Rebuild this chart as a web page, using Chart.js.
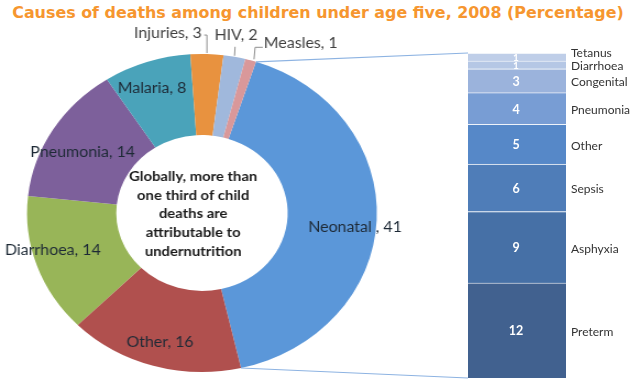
<!DOCTYPE html>
<html><head><meta charset="utf-8">
<script src="https://cdn.jsdelivr.net/npm/chart.js@4"></script>
<style>
html,body{margin:0;padding:0;background:#fff;}
#wrap{position:relative;width:636px;height:379px;overflow:hidden;background:#fff;}
#title{position:absolute;left:0;top:3px;width:636px;text-align:center;font:bold 15.9px "DejaVu Sans";color:#F6962F;white-space:nowrap;}
#pie{position:absolute;left:0;top:0;transform:scaleX(1.1);transform-origin:0 0;}
#bar{position:absolute;left:0;top:0;}
</style></head>
<body><div id="wrap">
<div id="title">Causes of deaths among children under age five, 2008 (Percentage)</div>
<canvas id="pie" width="420" height="379"></canvas>
<canvas id="bar" width="636" height="379"></canvas>
</div>
<script>
// ---- data ----
const causes = ['Neonatal','Other','Diarrhoea','Pneumonia','Malaria','Injuries','HIV','Measles'];
const causeValues = [41,16,14,14,8,3,2,1];
const causeLabels = ['Neonatal , 41','Other, 16','Diarrhoea, 14','Pneumonia, 14','Malaria, 8','Injuries, 3','HIV, 2','Measles, 1'];
const neonatalCauses = ['Preterm','Asphyxia','Sepsis','Other','Pneumonia','Congenital','Diarrhoea','Tetanus'];
const neonatalValues = [12,9,6,5,4,3,1,1];
const centerNote = ['Globally, more than','one third of child','deaths are','attributable to','undernutrition'];

// ---- styles ----
const pieColors = ['#5B97D9','#B0504E','#98B558','#7D609B','#4AA3BA','#E8923F','#A0B8DC','#D9989A'];
const barColors = ['#41618F','#4670A6','#4F7DB8','#5688C8','#789DD4','#9BB3DC','#B5C7E5','#BFCEE8'];
const SX = 1.1; // horizontal stretch of the doughnut canvas
const labelFont = '14.5px Lato';
// inside label placement: radius fraction and angle tweak (deg)
const inside = {0:[0.88,3.3],1:[0.846,0.3],2:[0.884,4],3:[0.78,-2.6],4:[0.837,-1.6]};
// outside label placement: text-centre offset and leader points, relative to outer mid point
const outside = {
  5:{t:[-35.5,-21], l:[[0,-1],[0,-19],[-2.5,-19]]},
  6:{t:[1.4,-21], l:[[0,-1],[0.5,-10]]},
  7:{t:[45.5,-17], l:[[3,-1],[4,-13],[11,-13]]}
};

const pieLabels = {
  id:'pieLabels',
  afterDatasetsDraw(chart){
    const ctx = chart.ctx;
    const meta = chart.getDatasetMeta(0);
    ctx.save();
    meta.data.forEach((arc,i)=>{
      const p = arc.getProps(['x','y','startAngle','endAngle','innerRadius','outerRadius'],true);
      const mid = (p.startAngle+p.endAngle)/2;
      ctx.font = labelFont;
      ctx.textAlign='center'; ctx.textBaseline='middle';
      if (inside[i]) {
        const [k,d] = inside[i];
        const a = mid + d*Math.PI/180;
        ctx.fillStyle = '#1E2A36';
        ctx.fillText(causeLabels[i], p.x+Math.cos(a)*p.outerRadius*k, p.y+Math.sin(a)*p.outerRadius*k);
      } else if (outside[i]) {
        const o = outside[i];
        const ox = p.x+Math.cos(mid)*p.outerRadius, oy = p.y+Math.sin(mid)*p.outerRadius;
        ctx.strokeStyle='#8C8C8C'; ctx.lineWidth=1;
        ctx.beginPath();
        o.l.forEach((pt,j)=>{ if(j===0) ctx.moveTo(ox+pt[0],oy+pt[1]); else ctx.lineTo(ox+pt[0],oy+pt[1]); });
        ctx.stroke();
        ctx.fillStyle = '#404040';
        ctx.fillText(causeLabels[i], ox+o.t[0], oy+o.t[1]);
      }
    });
    // centre note
    const a0 = meta.data[0];
    ctx.font = 'bold 13.5px Lato';
    ctx.fillStyle = '#1A1A1A';
    const lh = 18.7;
    centerNote.forEach((s,j)=>{
      ctx.fillText(s, a0.x-8, a0.y+1+(j-(centerNote.length-1)/2)*lh);
    });
    ctx.restore();
  }
};

const pie = new Chart(document.getElementById('pie'), {
  type:'doughnut',
  data:{labels:causes, datasets:[{data:causeValues, backgroundColor:pieColors, borderWidth:0}]},
  options:{
    responsive:false, animation:false, events:[],
    rotation:18, cutout:'49%',
    layout:{padding:{left:24.6,right:77.4,top:54,bottom:7}},
    plugins:{legend:{display:false}, tooltip:{enabled:false}, title:{display:false}}
  },
  plugins:[pieLabels]
});

const barDecor = {
  id:'barDecor',
  beforeDatasetsDraw(chart){
    // connector lines from the Neonatal slice to the bar
    const ctx = chart.ctx;
    const arc = pie.getDatasetMeta(0).data[0];
    const p = arc.getProps(['x','y','startAngle','endAngle','outerRadius'],true);
    const first = chart.getDatasetMeta(0).data[0];
    const last = chart.getDatasetMeta(chart.data.datasets.length-1).data[0];
    const left = first.x - first.width/2;
    const s = [SX*(p.x+Math.cos(p.startAngle)*p.outerRadius), p.y+Math.sin(p.startAngle)*p.outerRadius];
    const e = [SX*(p.x+Math.cos(p.endAngle)*p.outerRadius), p.y+Math.sin(p.endAngle)*p.outerRadius];
    ctx.save();
    ctx.strokeStyle='#8DB3E2'; ctx.lineWidth=1.2;
    ctx.beginPath(); ctx.moveTo(s[0],s[1]); ctx.lineTo(left,last.y); ctx.stroke();
    ctx.beginPath(); ctx.moveTo(e[0],e[1]); ctx.lineTo(left,first.base); ctx.stroke();
    ctx.restore();
  },
  afterDatasetsDraw(chart){
    const ctx = chart.ctx;
    ctx.save();
    const n = chart.data.datasets.length;
    chart.data.datasets.forEach((ds,i)=>{
      const b = chart.getDatasetMeta(i).data[0];
      const cy = (b.y+b.base)/2;
      ctx.textBaseline='middle';
      ctx.textAlign='center';
      ctx.fillStyle='#FFFFFF';
      ctx.font = (ds.data[0]>1?'bold 12.5px Lato':'bold 10px Lato');
      ctx.fillText(String(ds.data[0]), b.x-1, cy+1);
      ctx.textAlign='left';
      ctx.fillStyle='#333333';
      ctx.font='12px Lato';
      ctx.fillText(ds.label, b.x+b.width/2+5, cy+(i===n-1?-4:1.5));
    });
    ctx.restore();
  }
};

const barTotal = neonatalValues.reduce((a,b)=>a+b,0);
new Chart(document.getElementById('bar'), {
  type:'bar',
  data:{labels:['Neonatal'], datasets: neonatalCauses.map((c,i)=>({
    label:c, data:[neonatalValues[i]], backgroundColor:barColors[i],
    borderColor:'rgba(255,255,255,0.35)', borderWidth:{top:1}, borderSkipped:false,
    categoryPercentage:1, barPercentage:1
  }))},
  options:{
    responsive:false, animation:false, events:[],
    layout:{padding:{left:468,right:70,top:53,bottom:1}},
    scales:{x:{display:false,stacked:true}, y:{display:false,stacked:true,min:0,max:barTotal}},
    plugins:{legend:{display:false}, tooltip:{enabled:false}}
  },
  plugins:[barDecor]
});
</script>
</body></html>
